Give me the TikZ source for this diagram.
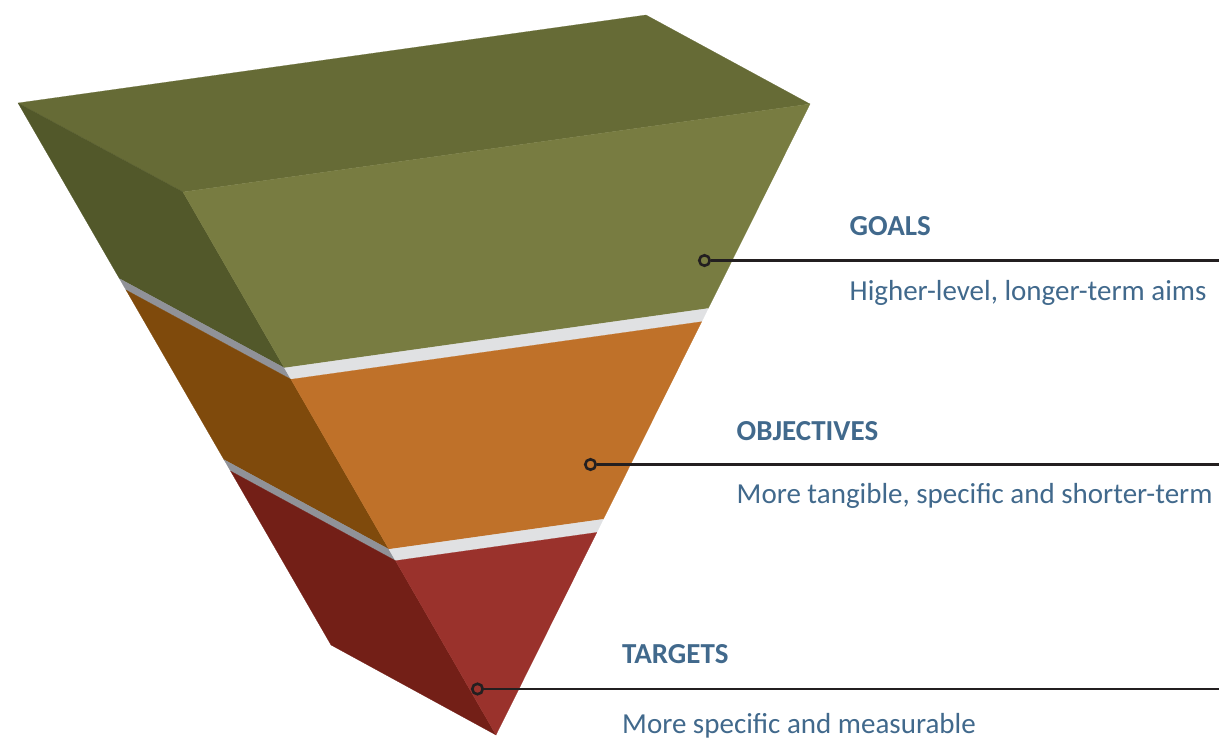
\documentclass[tikz,border=0pt]{standalone}
\usepackage{fontspec}
\setmainfont{Carlito}
\usetikzlibrary{calc}

\definecolor{topface}{HTML}{666B36}
\definecolor{greenfront}{HTML}{787C41}
\definecolor{greenleft}{HTML}{52582A}
\definecolor{bandleft}{HTML}{909298}
\definecolor{bandfront}{HTML}{E0E1E3}
\definecolor{orangefront}{HTML}{BF7129}
\definecolor{orangeleft}{HTML}{7F4A0C}
\definecolor{redfront}{HTML}{9A322C}
\definecolor{redleft}{HTML}{731F17}
\definecolor{labelblue}{HTML}{41698C}
\definecolor{leader}{HTML}{231F20}

\tikzset{
  face/.style={fill=#1, draw=#1, line width=0.2pt, line join=round},
  dotmark/.style={circle, draw=leader, line width=2.6pt, minimum size=10.5pt, inner sep=0pt},
  leaderline/.style={draw=leader, line width=2.6pt},
  titletext/.style={anchor=base west, inner sep=0pt, text=labelblue,
    font=\fontsize{29}{35}\selectfont\bfseries},
  subtext/.style={anchor=base west, inner sep=0pt, text=labelblue,
    font=\fontsize{29}{35}\selectfont},
}

% one slab of the wedge between levels #1 and #2: left face and front face
\newcommand{\slab}[4]{%
  \fill[face=#3] ($(A)!#1!(E)$) -- ($(D)!#1!(F)$) -- ($(D)!#2!(F)$) -- ($(A)!#2!(E)$) -- cycle;
  \fill[face=#4] ($(D)!#1!(F)$) -- ($(C)!#1!(F)$) -- ($(C)!#2!(F)$) -- ($(D)!#2!(F)$) -- cycle;
}

\begin{document}
\begin{tikzpicture}[x=1pt, y=-1pt]
  \useasboundingbox (0,0) rectangle (1219,741);

  % corners of the wedge
  \coordinate (A) at (18,103);
  \coordinate (B) at (646,15);
  \coordinate (C) at (810,104);
  \coordinate (D) at (183,192);
  \coordinate (E) at (331,645);
  \coordinate (F) at (496,735);

  % top face
  \fill[face=topface] (A) -- (B) -- (C) -- (D) -- cycle;

  % layers and separators
  \slab{0}{0.324}{greenleft}{greenfront}
  \slab{0.324}{0.345}{bandleft}{bandfront}
  \slab{0.345}{0.658}{orangeleft}{orangefront}
  \slab{0.658}{0.679}{bandleft}{bandfront}
  \slab{0.679}{1}{redleft}{redfront}

  % callouts
  \node[dotmark] (goaldot) at (704.5,260.5) {};
  \coordinate (goalend) at (1219,260.5);
  \draw[leaderline] (goaldot) -- (goalend);
  \node[titletext] (goaltitle) at (849.5,235) {GOALS};
  \node[subtext] (goalsub) at (849.5,300) {Higher-level, longer-term aims};

  \node[dotmark] (objdot) at (590.5,464.5) {};
  \coordinate (objend) at (1219,464.5);
  \draw[leaderline] (objdot) -- (objend);
  \node[titletext] (objtitle) at (736.5,440) {OBJECTIVES};
  \node[subtext] (objsub) at (736.5,503.5) {More tangible, specific and shorter-term};

  \node[dotmark] (tgtdot) at (477.5,689) {};
  \coordinate (tgtend) at (1219,689);
  \draw[leaderline] (tgtdot) -- (tgtend);
  \node[titletext] (tgttitle) at (622,663.5) {TARGETS};
  \node[subtext] (tgtsub) at (622,733) {More specific and measurable};
\end{tikzpicture}
\end{document}
